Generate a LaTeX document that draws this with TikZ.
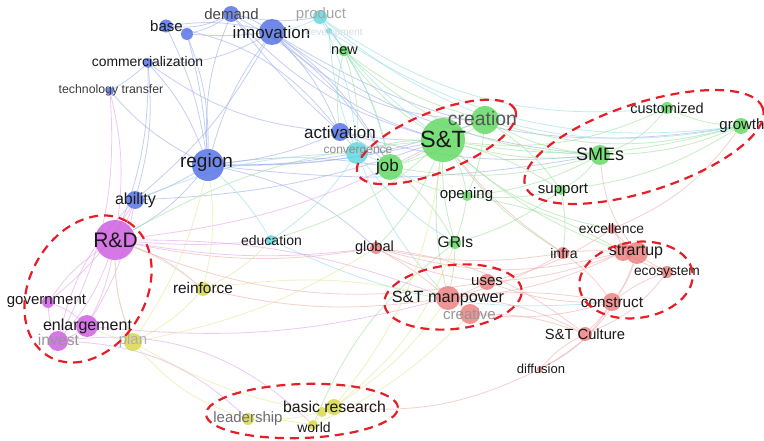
\documentclass[tikz,border=0pt]{standalone}
\usepackage{fontspec}
\setmainfont{Liberation Sans}
\usetikzlibrary{shapes.geometric}
\pgfdeclarelayer{paper}
\pgfdeclarelayer{edges}
\pgfdeclarelayer{dots}
\pgfsetlayers{paper,edges,dots,main}
\definecolor{cblue}{RGB}{80,110,230}
\definecolor{cgreen}{RGB}{95,218,95}
\definecolor{cred}{RGB}{235,125,125}
\definecolor{cmag}{RGB}{205,90,225}
\definecolor{cyel}{RGB}{215,215,70}
\definecolor{ccyan}{RGB}{90,215,225}
\definecolor{eblue}{RGB}{160,175,235}
\definecolor{egreen}{RGB}{160,225,160}
\definecolor{ered}{RGB}{240,175,175}
\definecolor{emag}{RGB}{228,165,236}
\definecolor{eyel}{RGB}{228,232,150}
\definecolor{ecyan}{RGB}{150,222,230}
\definecolor{labc}{RGB}{25,25,25}
\definecolor{ringred}{RGB}{230,30,40}
\newcommand\fsz[1]{\fontsize{#1}{#1}\selectfont}
\begin{document}
\begin{tikzpicture}[x=1pt,y=-1pt,
  dot/.style={circle, inner sep=0pt, fill=#1, fill opacity=0.82, draw=none},
  lab/.style={inner sep=0pt, text=labc},
  ring/.style={ellipse, draw=ringred, line width=2.2pt, dash pattern=on 9pt off 6pt, inner sep=0pt},
  eb/.style={draw=eblue, line width=0.8pt, opacity=0.6},
  eg/.style={draw=egreen, line width=0.8pt, opacity=0.6},
  er/.style={draw=ered, line width=0.8pt, opacity=0.6},
  em/.style={draw=emag, line width=0.8pt, opacity=0.6},
  ey/.style={draw=eyel, line width=0.8pt, opacity=0.6},
  ec/.style={draw=ecyan, line width=0.8pt, opacity=0.6}]
\begin{pgfonlayer}{paper}
\fill[white] (0,0) rectangle (764,441);
\end{pgfonlayer}
\useasboundingbox (0,0) rectangle (764,441);
% ---------- dots ----------
\begin{pgfonlayer}{dots}
\node[dot=cblue, minimum size=16pt] (demand) at (231,14) {};
\node[dot=cblue, minimum size=13pt] (base) at (166,26) {};
\node[dot=cblue, minimum size=12pt] (baseb) at (187,34) {};
\node[dot=cblue, minimum size=26pt] (innov) at (272,32) {};
\node[dot=ccyan, minimum size=14pt] (product) at (320,17) {};
\node[dot=ccyan, minimum size=6pt] (devel) at (329,31) {};
\node[dot=cgreen, minimum size=11pt] (new) at (344,51) {};
\node[dot=cblue, minimum size=10pt] (comm) at (148,63) {};
\node[dot=cblue, minimum size=8pt] (tt) at (110,91) {};
\node[dot=cblue, minimum size=32pt] (region) at (208,165) {};
\node[dot=cblue, minimum size=18pt] (activ) at (340,132) {};
\node[dot=ccyan, minimum size=22pt] (conv) at (357,153) {};
\node[dot=cgreen, minimum size=26pt] (job) at (390,167) {};
\node[dot=cgreen, minimum size=44pt] (st) at (443,140) {};
\node[dot=cgreen, minimum size=28pt] (creation) at (485,120) {};
\node[dot=cgreen, minimum size=10pt] (opening) at (467,196) {};
\node[dot=cgreen, minimum size=20pt] (smes) at (600,155) {};
\node[dot=cgreen, minimum size=12pt] (custom) at (667,108) {};
\node[dot=cgreen, minimum size=16pt] (growth) at (741,126) {};
\node[dot=cgreen, minimum size=10pt] (support) at (561,190) {};
\node[dot=cblue, minimum size=18pt] (ability) at (135,200) {};
\node[dot=cmag, minimum size=40pt] (rd) at (115,240) {};
\node[dot=ccyan, minimum size=10pt] (educ) at (271,240) {};
\node[dot=cred, minimum size=12pt] (global) at (376,248) {};
\node[dot=cgreen, minimum size=12pt] (gris) at (455,243) {};
\node[dot=cyel, minimum size=14pt] (reinf) at (203,289) {};
\node[dot=cmag, minimum size=12pt] (gov) at (48,302) {};
\node[dot=cmag, minimum size=22pt] (enlarg) at (87,326) {};
\node[dot=cmag, minimum size=20pt] (invest) at (58,341) {};
\node[dot=cyel, minimum size=18pt] (plan) at (133,342) {};
\node[dot=cyel, minimum size=12pt] (lead) at (248,419) {};
\node[dot=cyel, minimum size=10pt] (basic) at (322,412) {};
\node[dot=cyel, minimum size=16pt] (basicb) at (334,407) {};
\node[dot=cyel, minimum size=10pt] (world) at (313,425) {};
\node[dot=cred, minimum size=16pt] (uses) at (487,282) {};
\node[dot=cred, minimum size=24pt] (stm) at (448,298) {};
\node[dot=cred, minimum size=20pt] (creative) at (470,314) {};
\node[dot=cred, minimum size=10pt] (excel) at (612,229) {};
\node[dot=cred, minimum size=12pt] (infra) at (563,253) {};
\node[dot=cred, minimum size=18pt] (start) at (623,252) {};
\node[dot=cred, minimum size=22pt] (startb) at (637,253) {};
\node[dot=cred, minimum size=12pt] (eco) at (667,272) {};
\node[dot=cred, minimum size=18pt] (constr) at (612,302) {};
\node[dot=cred, minimum size=14pt] (stc) at (585,334) {};
\node[dot=cred, minimum size=6pt] (diff) at (540,369) {};
\end{pgfonlayer}
% ---------- edges ----------
\begin{pgfonlayer}{edges}
\foreach \a/\b/\c in {region/innov/10, region/base/-8, region/demand/12, region/comm/-10, region/ability/5,
  region/activ/-8, region/st/-6, region/rd/10, region/job/8, region/conv/-5, region/global/15,
  region/creation/-10, region/smes/-8, region/tt/10, region/baseb/-5,
  innov/base/-10, innov/demand/-10, innov/comm/15, innov/st/-15, innov/activ/10, innov/creation/-20,
  innov/job/12, innov/smes/-15, innov/growth/-20, innov/ability/10,
  base/demand/-15, base/activ/20, baseb/demand/-10, baseb/innov/-5, baseb/region/10,
  comm/tt/5, comm/activ/-15, comm/rd/10, comm/ability/10,
  demand/st/-15, demand/product/-10, demand/job/15, demand/activ/-5,
  activ/st/-5, activ/job/10, activ/smes/-10, activ/conv/5, ability/st/-8}
  \draw[eb] (\a) to[bend left=\c] (\b);
\foreach \a/\b/\c in {st/creation/5, st/job/5, st/opening/10, st/gris/-8, st/smes/-10, st/new/10,
  st/support/8, st/custom/-15, st/growth/-12, st/conv/-8, st/global/10, st/stm/-10, st/excel/-15,
  st/infra/-10, st/rd/-12, st/educ/12, st/start/-10,
  creation/job/10, creation/smes/-10, creation/growth/-15, creation/new/10, creation/opening/8,
  creation/support/10, job/opening/-10, job/new/-10, job/gris/10, job/smes/-12,
  smes/custom/-15, smes/growth/-10, smes/support/10, support/growth/-12, custom/growth/-10,
  smes/opening/10, gris/stm/5, gris/world/-15, gris/opening/-5, new/conv/10, opening/start/10,
  support/infra/8, new/activ/-10, new/smes/-20, opening/support/-8, gris/support/-10}
  \draw[eg] (\a) to[bend left=\c] (\b);
\foreach \a/\b/\c in {product/conv/10, product/innov/8, product/st/-8, product/growth/-25,
  product/custom/-20, product/job/12, conv/job/5, conv/educ/10, conv/stm/-10, devel/new/5,
  devel/conv/-8, educ/region/-8, educ/constr/-15, conv/ability/-10, devel/growth/-20, conv/gris/-10}
  \draw[ec] (\a) to[bend left=\c] (\b);
\foreach \a/\b/\c in {global/stm/5, global/uses/-10, global/start/-15, global/rd/10, stm/uses/-5,
  stm/creative/5, stm/start/-10, stm/constr/8, stm/stc/12, stm/infra/-8, stm/reinf/10,
  uses/start/-8, uses/excel/-10, start/eco/-5, startb/constr/10, start/infra/-5, start/excel/-10,
  startb/smes/15, constr/eco/8, constr/stc/5, constr/infra/-8, stc/diff/-10, diff/basicb/15,
  diff/startb/-20, creative/stc/10, excel/eco/-10, excel/growth/-15, infra/st/8, uses/constr/-10,
  creative/constr/-10, stc/eco/-15, global/infra/-10, diff/constr/-15, uses/rd/15, stc/global/-15}
  \draw[er] (\a) to[bend left=\c] (\b);
\foreach \a/\b/\c in {rd/gov/-10, rd/enlarg/8, rd/invest/10, rd/ability/-5, rd/educ/-5,
  rd/global/-8, rd/plan/-10, rd/reinf/10, gov/enlarg/10, gov/invest/-10, enlarg/invest/8,
  enlarg/ability/-10, invest/lead/20, invest/world/25, enlarg/stm/-10, rd/st/-10, gov/ability/-10,
  rd/stm/10, tt/invest/15, rd/tt/-10, invest/ability/15}
  \draw[em] (\a) to[bend left=\c] (\b);
\foreach \a/\b/\c in {reinf/plan/10, reinf/region/-10, reinf/stm/10, reinf/rd/-8, plan/lead/-15,
  plan/basic/-10, plan/enlarg/5, plan/rd/10, basic/world/5, basic/lead/8, basicb/stm/-10,
  basicb/gris/-15, world/lead/-5, basicb/st/-15, world/creative/-10, plan/region/-10,
  reinf/educ/-10, plan/global/-10}
  \draw[ey] (\a) to[bend left=\c] (\b);
\end{pgfonlayer}
% ---------- labels ----------
\node[lab, font=\fsz{15}, text={rgb,255:red,70;green,70;blue,70}] (demand-t) at (231.5,14) {demand};
\node[lab, font=\fsz{15}] (base-t) at (166.5,26) {base};
\node[lab, font=\fsz{17}] (innov-t) at (271.5,32) {innovation};
\node[lab, font=\fsz{15}, text={rgb,255:red,165;green,165;blue,165}] (product-t) at (321,15) {product};
\node[lab, font=\fsz{10}, text={rgb,255:red,215;green,220;blue,230}] (devel-t) at (334,33) {development};
\node[lab, font=\fsz{14.5}] (new-t) at (344.5,51) {new};
\node[lab, font=\fsz{13.9}] (comm-t) at (147.5,62) {commercialization};
\node[lab, font=\fsz{12.3}, text={rgb,255:red,60;green,60;blue,60}] (tt-t) at (111,90) {technology transfer};
\node[lab, font=\fsz{19}] (region-t) at (206.5,163) {region};
\node[lab, font=\fsz{17}] (activ-t) at (340,132) {activation};
\node[lab, font=\fsz{12}, text={rgb,255:red,140;green,140;blue,140}] (conv-t) at (358,152) {convergence};
\node[lab, font=\fsz{17}] (job-t) at (387.5,167) {job};
\node[lab, font=\fsz{23.5}] (st-t) at (443,139) {S\&T};
\node[lab, font=\fsz{19.4}, text={rgb,255:red,85;green,85;blue,85}] (creation-t) at (482.5,119) {creation};
\node[lab, font=\fsz{15}] (opening-t) at (466.5,195) {opening};
\node[lab, font=\fsz{18}] (smes-t) at (600,154) {SMEs};
\node[lab, font=\fsz{14.5}] (custom-t) at (667,108) {customized};
\node[lab, font=\fsz{15}] (growth-t) at (742,126) {growth};
\node[lab, font=\fsz{15}] (support-t) at (563,190) {support};
\node[lab, font=\fsz{16}] (ability-t) at (135.5,200) {ability};
\node[lab, font=\fsz{21}] (rd-t) at (115.5,240) {R\&D};
\node[lab, font=\fsz{14}] (educ-t) at (271.5,240) {education};
\node[lab, font=\fsz{14.6}] (global-t) at (374.5,248) {global};
\node[lab, font=\fsz{15.6}] (gris-t) at (455.5,242) {GRIs};
\node[lab, font=\fsz{15.4}] (reinf-t) at (203,288) {reinforce};
\node[lab, font=\fsz{15}] (gov-t) at (46.5,301) {government};
\node[lab, font=\fsz{16}] (enlarg-t) at (87.5,326) {enlargement};
\node[lab, font=\fsz{15.7}, text={rgb,255:red,150;green,150;blue,150}] (invest-t) at (58.5,340) {invest};
\node[lab, font=\fsz{15}, text={rgb,255:red,175;green,175;blue,175}] (plan-t) at (133,341) {plan};
\node[lab, font=\fsz{15}, text={rgb,255:red,110;green,110;blue,110}] (lead-t) at (248,419) {leadership};
\node[lab, font=\fsz{15.8}] (basic-t) at (334.5,407) {basic research};
\node[lab, font=\fsz{14}] (world-t) at (314,427) {world};
\node[lab, font=\fsz{15}] (uses-t) at (487,282) {uses};
\node[lab, font=\fsz{16.3}] (stm-t) at (448,299) {S\&T manpower};
\node[lab, font=\fsz{15}, text={rgb,255:red,150;green,150;blue,150}] (creative-t) at (469.5,314) {creative};
\node[lab, font=\fsz{13.8}] (excel-t) at (611.5,229) {excellence};
\node[lab, font=\fsz{14}] (infra-t) at (564,253) {infra};
\node[lab, font=\fsz{16}] (start-t) at (636,252) {strartup};
\node[lab, font=\fsz{13.8}] (eco-t) at (667,272) {ecosystem};
\node[lab, font=\fsz{15.3}] (constr-t) at (612,303) {construct};
\node[lab, font=\fsz{14.7}] (stc-t) at (585,334) {S\&T Culture};
\node[lab, font=\fsz{13}] (diff-t) at (541,369) {diffusion};
% ---------- cluster rings ----------
\node[ring, minimum width=170pt, minimum height=60pt, rotate=22] (ring1) at (436.5,142) {};
\node[ring, minimum width=250pt, minimum height=88pt, rotate=18] (ring2) at (644,147) {};
\node[ring, minimum width=156pt, minimum height=116pt, rotate=60] (ring3) at (88,289) {};
\node[ring, minimum width=138pt, minimum height=64pt, rotate=6] (ring4) at (453,297) {};
\node[ring, minimum width=114pt, minimum height=76pt, rotate=8] (ring5) at (636,280) {};
\node[ring, minimum width=192pt, minimum height=54pt, rotate=2] (ring6) at (302,411) {};
\end{tikzpicture}
\end{document}
